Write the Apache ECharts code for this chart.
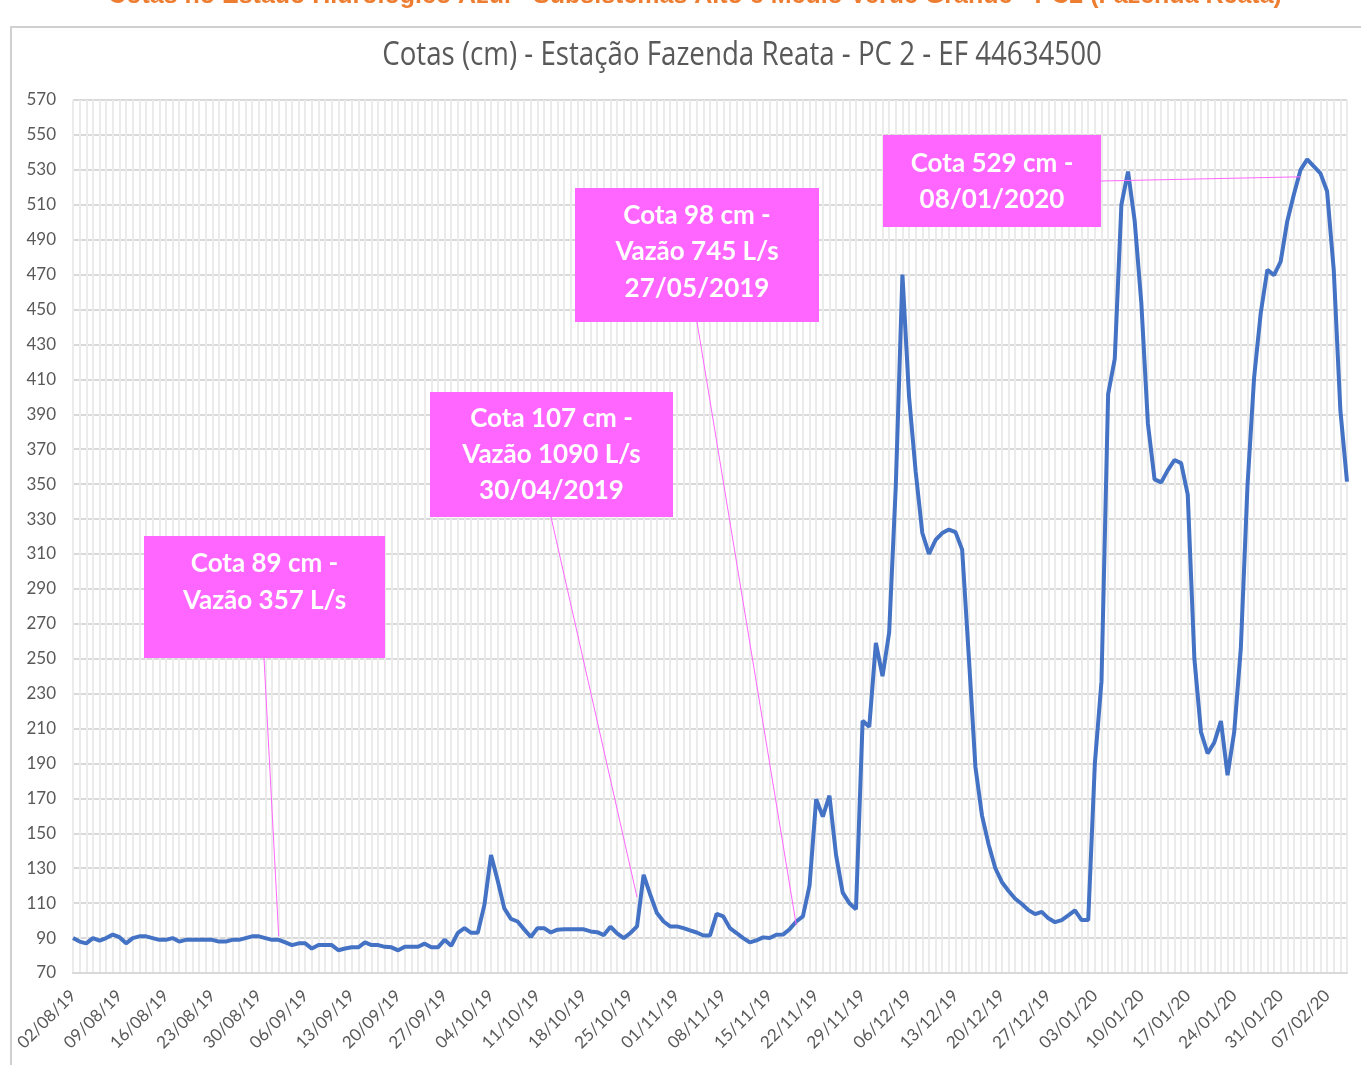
<!DOCTYPE html>
<html>
<head>
<meta charset="utf-8">
<script src="https://cdn.jsdelivr.net/npm/echarts@6/dist/echarts.min.js"></script>
<style>
  html, body { margin: 0; padding: 0; background: #fff; }
  #main { width: 1361px; height: 1065px; }
</style>
</head>
<body>
<div id="main"></div>
<script>
// cotas diarias (cm) a partir de 02/08/2019
const cota = [
  90, 88, 87, 90, 88.5, 90, 92, 90.5, 87, 90,
  91, 91, 90, 89, 89, 90, 88, 89, 89, 89,
  89, 89, 88, 88, 89, 89, 90, 91, 91, 90,
  89, 89, 87.5, 86, 87, 87, 84, 86, 86, 86,
  83, 84, 84.7, 84.7, 87.5, 86, 86, 85, 84.7, 83,
  85, 85, 85, 86.8, 84.7, 84.7, 89, 85.6, 93, 95.7,
  93, 93, 109, 137.6, 123, 107, 101, 99.5, 95, 90.6,
  95.7, 95.7, 93.2, 94.8, 95, 95, 95, 95, 93.8, 93.4,
  91.7, 96.5, 92.7, 90, 92.9, 96.7, 126.2, 114.8, 104.3, 99.5,
  96.7, 96.7, 95.7, 94.4, 93.2, 91.5, 91.5, 103.9, 102.4, 95.7,
  92.9, 90, 87.5, 88.7, 90.4, 90, 91.9, 92, 95.1, 99.5,
  102.4, 120, 169.5, 159.6, 171.6, 137.5, 116, 110, 106.5, 214.5,
  211, 259, 240, 265, 349, 470, 400, 357, 322, 310,
  318, 322, 324, 322.5, 312.5, 251.6, 188, 160, 143.5, 130,
  122, 117, 112.5, 109.5, 106, 103.7, 105, 101.3, 99.1, 100.3,
  103, 105.9, 100.3, 100.3, 190, 237, 401.6, 421.7, 510, 529,
  500.8, 454, 384.5, 352.7, 351, 358, 363.8, 362, 344, 250,
  208, 195.7, 202, 214.3, 183.3, 208, 256, 349, 411, 448,
  472.8, 469.7, 477.4, 500.6, 516, 530, 536, 532, 528, 517.7,
  472.8, 392.3, 351.4
];

// datas (dd/mm/yy), uma por dia
const datas = [];
const inicio = new Date(2019, 7, 2);
for (let i = 0; i < cota.length; i++) {
  const d = new Date(inicio.getFullYear(), inicio.getMonth(), inicio.getDate() + i);
  const dd = String(d.getDate()).padStart(2, '0');
  const mm = String(d.getMonth() + 1).padStart(2, '0');
  const yy = String(d.getFullYear()).slice(2);
  datas.push(dd + '/' + mm + '/' + yy);
}

// caixas de anotacao: texto e ponto apontado [indice do dia, cota]
const notaTextos = [
  'Cota 89 cm -\nVazão 357 L/s',
  'Cota 107 cm -\nVazão 1090 L/s\n30/04/2019',
  'Cota 98 cm -\nVazão 745 L/s\n27/05/2019',
  'Cota 529 cm -\n08/01/2020'
];
const notaAlvos = [[30.6, 91], [84.6, 113.5], [108.6, 97.5], [184.5, 526]];

const tituloSecao = 'Cotas no Estado Hidrológico Azul - Subsistemas Alto e Médio Verde Grande - PC2 (Fazenda Reata)';
const titulo = 'Cotas (cm) - Estação Fazenda Reata - PC 2 - EF 44634500';

const myChart = echarts.init(document.getElementById('main'));

myChart.setOption({
  animation: false,
  backgroundColor: '#fff',
  grid: { left: 73, right: 14, top: 100, bottom: 92, containLabel: false },
  xAxis: {
    type: 'category',
    data: datas,
    boundaryGap: false,
    axisLine: { show: true, lineStyle: { color: '#d9d9d9', width: 2 } },
    axisTick: { show: false },
    axisLabel: {
      interval: 6,
      rotate: 45,
      color: '#595959',
      fontFamily: 'Lato, "Open Sans", sans-serif',
      fontSize: 17,
      margin: 20
    },
    splitLine: { show: true, interval: 0, lineStyle: { color: '#ebebeb', width: 2 } }
  },
  yAxis: {
    type: 'value',
    min: 70,
    max: 570,
    interval: 20,
    axisLine: { show: false },
    axisTick: { show: false },
    axisLabel: {
      color: '#595959',
      fontFamily: 'Lato, "Open Sans", sans-serif',
      fontSize: 17,
      margin: 17
    },
    splitLine: { lineStyle: { color: '#d9d9d9', width: 2 } }
  },
  series: [{
    type: 'line',
    data: cota,
    showSymbol: false,
    lineStyle: { color: '#4472C4', width: 4 },
    itemStyle: { color: '#4472C4' },
    z: 3
  }]
});

// posicoes das caixas (px); ty = topo do texto
const caixas = [
  { x: 144, y: 536, w: 241, h: 122, lh: 37, ty: 545, from: [264, 658] },
  { x: 430, y: 392, w: 243, h: 125, lh: 36, ty: 401, from: [551, 517] },
  { x: 575, y: 188, w: 244, h: 134, lh: 36.5, ty: 197, from: [697, 322] },
  { x: 883, y: 135, w: 218, h: 92, lh: 36, ty: 146, from: [1101, 181] }
];

const graficos = [
  {
    type: 'rect', silent: true, z: 0,
    shape: { x: 11, y: 27, width: 1400, height: 1100 },
    style: { fill: 'none', stroke: '#d0d0d0', lineWidth: 2 }
  },
  {
    type: 'text', x: 695, y: 9, z: 10,
    style: {
      text: tituloSecao, align: 'center', verticalAlign: 'bottom',
      fill: '#ED7D31', font: 'bold 25px "Liberation Sans", Arial, sans-serif'
    }
  },
  {
    type: 'text', x: 742, y: 56, z: 10, scaleX: 0.865,
    style: {
      text: titulo, align: 'center', verticalAlign: 'middle',
      fill: '#595959', font: '32px "Open Sans", sans-serif'
    }
  }
];

caixas.forEach(function (c, i) {
  const alvo = myChart.convertToPixel({ xAxisIndex: 0, yAxisIndex: 0 }, notaAlvos[i]);
  graficos.push({
    type: 'line', silent: true, z: 20,
    shape: { x1: c.from[0], y1: c.from[1], x2: alvo[0], y2: alvo[1] },
    style: { stroke: '#ff66ff', lineWidth: 1 }
  });
  graficos.push({
    type: 'rect', silent: true, z: 21,
    shape: { x: c.x, y: c.y, width: c.w, height: c.h },
    style: { fill: '#ff66ff' }
  });
  graficos.push({
    type: 'text', silent: true, z: 22,
    x: c.x + c.w / 2,
    y: c.ty,
    style: {
      text: notaTextos[i], align: 'center', verticalAlign: 'top',
      lineHeight: c.lh,
      fill: '#ffffff', font: 'bold 26px Lato, "Open Sans", sans-serif'
    }
  });
});

myChart.setOption({ graphic: graficos });
</script>
</body>
</html>
